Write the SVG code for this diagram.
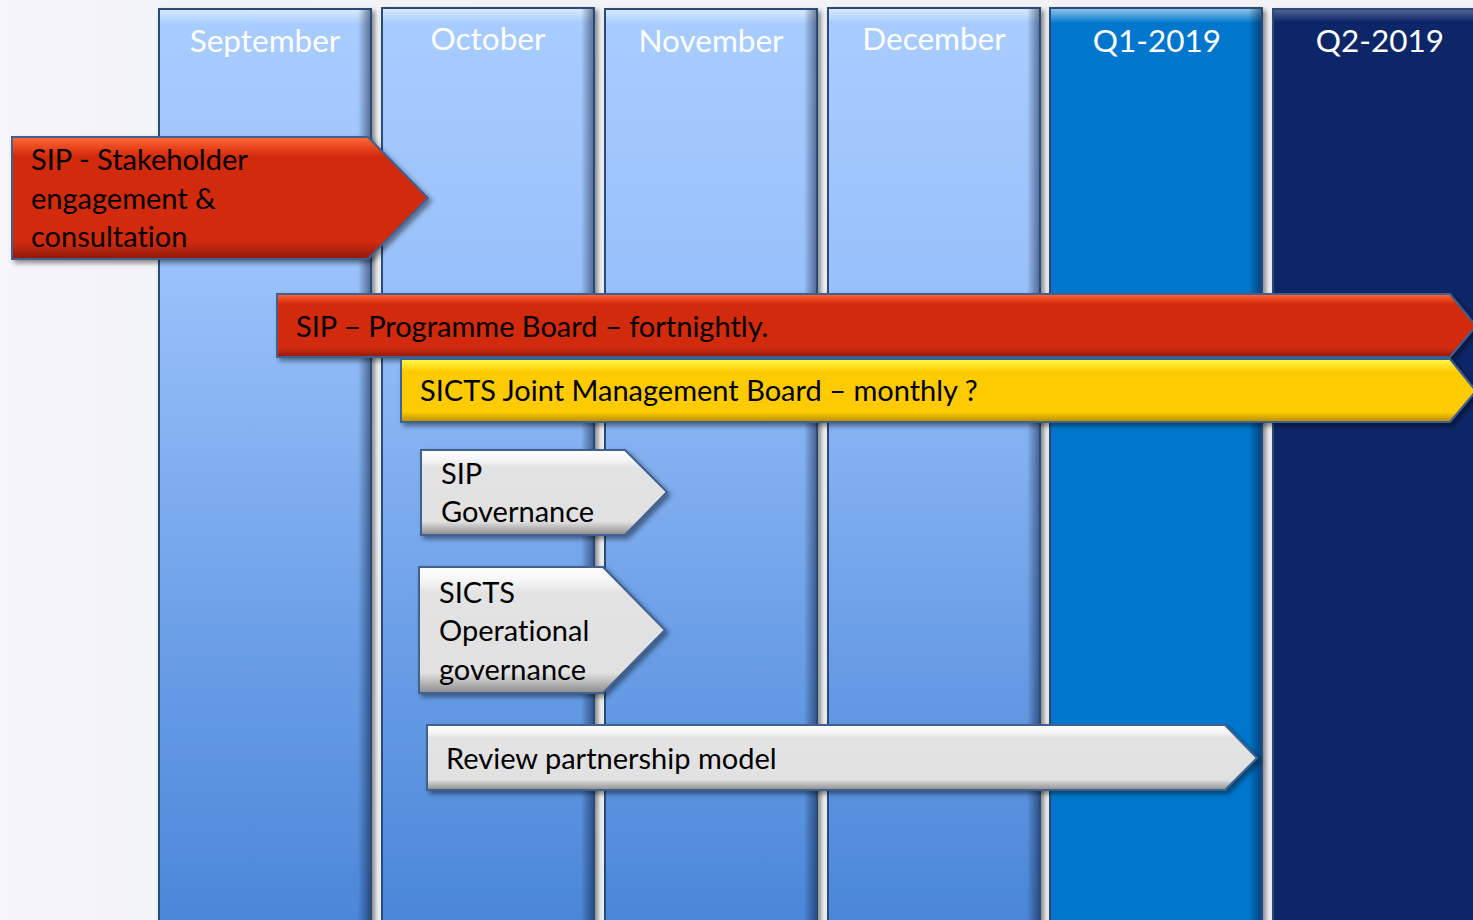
<svg xmlns="http://www.w3.org/2000/svg" width="1473" height="920" viewBox="0 0 1473 920">
<defs>
<linearGradient id="bg" x1="0" y1="0" x2="1" y2="0"><stop offset="0" stop-color="#f6f6f8"/><stop offset="0.12" stop-color="#f2f3f5"/><stop offset="1" stop-color="#f4f4f6"/></linearGradient>
<linearGradient id="colLight" x1="0" y1="0" x2="0" y2="1"><stop offset="0" stop-color="#a9cdff"/><stop offset="0.3" stop-color="#98c0fa"/><stop offset="0.65" stop-color="#6ea2e8"/><stop offset="1" stop-color="#4a86d8"/></linearGradient>
<linearGradient id="colTop" x1="0" y1="0" x2="0" y2="1"><stop offset="0" stop-color="#ffffff" stop-opacity="0.55"/><stop offset="1" stop-color="#ffffff" stop-opacity="0"/></linearGradient>
<linearGradient id="colRight" x1="0" y1="0" x2="1" y2="0"><stop offset="0" stop-color="#000000" stop-opacity="0"/><stop offset="1" stop-color="#000a30" stop-opacity="0.45"/></linearGradient>
<linearGradient id="red" x1="0" y1="0" x2="0" y2="1"><stop offset="0" stop-color="#ff6a3c"/><stop offset="0.1" stop-color="#e8401a"/><stop offset="0.16" stop-color="#d12b0e"/><stop offset="0.86" stop-color="#d12b0e"/><stop offset="1" stop-color="#8e1a06"/></linearGradient>
<linearGradient id="yellow" x1="0" y1="0" x2="0" y2="1"><stop offset="0" stop-color="#fff84a"/><stop offset="0.12" stop-color="#ffe020"/><stop offset="0.2" stop-color="#fecb04"/><stop offset="0.84" stop-color="#fecb04"/><stop offset="1" stop-color="#b58c00"/></linearGradient>
<linearGradient id="gray" x1="0" y1="0" x2="0" y2="1"><stop offset="0" stop-color="#ffffff"/><stop offset="0.12" stop-color="#f4f4f4"/><stop offset="0.2" stop-color="#e3e3e3"/><stop offset="0.84" stop-color="#e1e1e1"/><stop offset="1" stop-color="#8c8c8c"/></linearGradient>
<filter id="sh" x="-5%" y="-10%" width="115%" height="130%"><feDropShadow dx="3" dy="3" stdDeviation="2.5" flood-color="#000" flood-opacity="0.45"/></filter>
</defs>
<style>
text{font-variant-ligatures:none;font-feature-settings:"liga" 0,"clig" 0,"dlig" 0}
.col{stroke:#2c4c78;stroke-width:2;filter:url(#sh)}
.hdr{font-family:Lato,"Liberation Sans",sans-serif;font-size:31.5px;fill:#ffffff;text-anchor:middle}
.lbl{font-family:Lato,"Liberation Sans",sans-serif;font-size:29px;fill:#000000}
.arr{stroke:#3f6090;stroke-width:2;filter:url(#sh)}
</style>
<rect x="0" y="0" width="1473" height="920" fill="url(#bg)"/>
<g id="columns">
<g id="col-sep"><rect class="col" x="159" y="9" width="212" height="920" fill="url(#colLight)"/><rect x="160" y="10" width="210" height="14" fill="url(#colTop)"/><rect x="358" y="10" width="12" height="915" fill="url(#colRight)"/><text class="hdr" x="265" y="52">September</text></g>
<g id="col-oct"><rect class="col" x="382" y="8" width="212" height="920" fill="url(#colLight)"/><rect x="383" y="9" width="210" height="14" fill="url(#colTop)"/><rect x="581" y="9" width="12" height="915" fill="url(#colRight)"/><text class="hdr" x="488" y="50">October</text></g>
<g id="col-nov"><rect class="col" x="605" y="9" width="212" height="920" fill="url(#colLight)"/><rect x="606" y="10" width="210" height="14" fill="url(#colTop)"/><rect x="804" y="10" width="12" height="915" fill="url(#colRight)"/><text class="hdr" x="711" y="52">November</text></g>
<g id="col-dec"><rect class="col" x="828" y="8" width="212" height="920" fill="url(#colLight)"/><rect x="829" y="9" width="210" height="14" fill="url(#colTop)"/><rect x="1027" y="9" width="12" height="915" fill="url(#colRight)"/><text class="hdr" x="934" y="50">December</text></g>
<g id="col-q1"><rect class="col" x="1050" y="8" width="212" height="920" fill="#0677cc"/><rect x="1051" y="9" width="210" height="14" fill="url(#colTop)"/><rect x="1249" y="9" width="12" height="915" fill="url(#colRight)"/><text class="hdr" x="1157" y="52">Q1-2019</text></g>
<g id="col-q2"><rect class="col" x="1273" y="9" width="215" height="920" fill="#072668"/><rect x="1274" y="10" width="213" height="12" fill="url(#colTop)" opacity="0.5"/><text class="hdr" x="1380" y="52">Q2-2019</text></g>
</g>
<g id="connectors"></g>
<g id="stakeholder"><path class="arr" d="M12,137 L368,137 L428,198 L368,259 L12,259 Z" fill="url(#red)"/><text class="lbl" x="31" y="170">SIP - Stakeholder</text><text class="lbl" x="31" y="209">engagement &amp;</text><text class="lbl" x="31" y="247">consultation</text></g>
<g id="programme-board"><path class="arr" d="M277,294 L1450,294 L1476,326 L1450,357 L277,357 Z" fill="url(#red)"/><text class="lbl" x="296" y="337">SIP – Programme Board – fortnightly.</text></g>
<g id="jmb"><path class="arr" d="M401,359 L1450,359 L1476,391 L1450,422 L401,422 Z" fill="url(#yellow)"/><text class="lbl" x="420" y="401">SICTS Joint Management Board – monthly ?</text></g>
<g id="sip-governance"><path class="arr" d="M421,450 L625,450 L667,492 L625,535 L421,535 Z" fill="url(#gray)"/><text class="lbl" x="441" y="484">SIP</text><text class="lbl" x="441" y="522">Governance</text></g>
<g id="sicts-operational"><path class="arr" d="M419,567 L603,567 L665,630 L603,693 L419,693 Z" fill="url(#gray)"/><text class="lbl" x="439" y="603">SICTS</text><text class="lbl" x="439" y="641">Operational</text><text class="lbl" x="439" y="680">governance</text></g>
<g id="review"><path class="arr" d="M427,725 L1225,725 L1257,758 L1225,790 L427,790 Z" fill="url(#gray)"/><text class="lbl" x="446" y="769">Review partnership model</text></g>
</svg>
